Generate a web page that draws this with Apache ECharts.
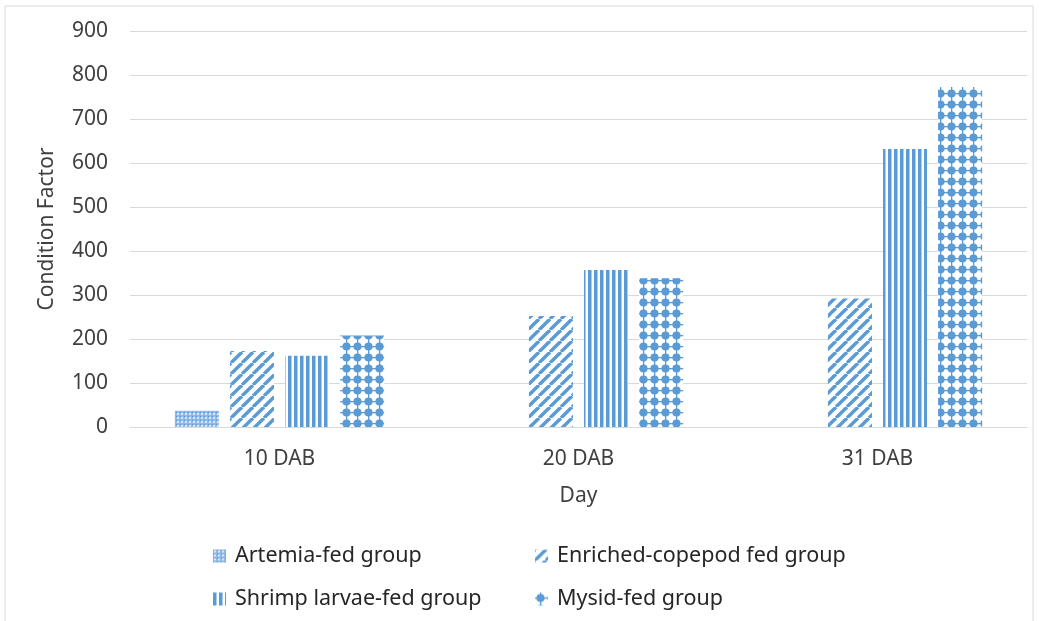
<!DOCTYPE html>
<html>
<head>
<meta charset="utf-8">
<script src="https://cdn.jsdelivr.net/npm/echarts@6/dist/echarts.min.js"></script>
<style>
  html, body { margin: 0; padding: 0; background: #ffffff; }
  #chart { width: 1039px; height: 621px; }
</style>
</head>
<body>
<div id="chart"></div>
<script>
// Condition factor by feeding group and day after birth (DAB)
var days = ['10 DAB', '20 DAB', '31 DAB'];
var groupNames = ['Artemia-fed group', 'Enriched-copepod fed group', 'Shrimp larvae-fed group', 'Mysid-fed group'];
var artemia   = [37, null, null];
var copepod   = [173, 252, 292];
var shrimp    = [162, 357, 632];
var mysid     = [208, 338, 773];
var yTicks = [0, 100, 200, 300, 400, 500, 600, 700, 800, 900];

var BLUE = '#5b9bd5';
var FONT = '"Noto Sans", "Open Sans", sans-serif';

// Fill patterns drawn on small canvases
function makeCanvas(w, h, draw) {
  var c = document.createElement('canvas');
  c.width = w; c.height = h;
  var ctx = c.getContext('2d');
  ctx.fillStyle = '#ffffff';
  ctx.fillRect(0, 0, w, h);
  draw(ctx, w, h);
  return c;
}

var gridPattern = makeCanvas(4, 4, function (ctx) {
  ctx.fillStyle = '#8db8e6';
  ctx.fillRect(0, 0, 4, 4);
  ctx.fillStyle = '#d6e6f7';
  ctx.fillRect(1, 1, 2, 2);
  ctx.fillStyle = '#5b9bd5';
  ctx.fillRect(0, 0, 1, 1);
});

var diagPattern = makeCanvas(11, 11, function (ctx, w, h) {
  ctx.strokeStyle = BLUE;
  ctx.lineWidth = 3.4;
  for (var k = -1; k <= 1; k++) {
    ctx.beginPath();
    ctx.moveTo(k * w, h);
    ctx.lineTo(k * w + w, 0);
    ctx.stroke();
  }
});

var vertPattern = makeCanvas(6, 6, function (ctx) {
  ctx.fillStyle = BLUE;
  ctx.fillRect(0, 0, 3, 6);
  ctx.fillStyle = '#a9cbeb';
  ctx.fillRect(3, 0, 1, 6);
});

var dotPattern = makeCanvas(11, 11, function (ctx) {
  ctx.fillStyle = BLUE;
  ctx.beginPath();
  ctx.arc(5.5, 5.5, 4.1, 0, Math.PI * 2);
  ctx.fill();
  ctx.fillRect(0, 5, 11, 1.3);
  ctx.fillRect(5, 0, 1.3, 11);
});

var fills = [gridPattern, diagPattern, vertPattern, dotPattern];
var seriesData = [artemia, copepod, shrimp, mysid];

var series = groupNames.map(function (name, i) {
  return {
    name: name,
    type: 'bar',
    data: seriesData[i],
    barGap: '25%',
    barCategoryGap: '30%',
    itemStyle: { color: { image: fills[i], repeat: 'repeat' } },
    emphasis: { disabled: true }
  };
});

// One legend per entry, laid out in two rows of two
var legendPos = [
  { left: 208, top: 540 },
  { left: 530, top: 540 },
  { left: 208, top: 583 },
  { left: 530, top: 583 }
];
var legends = groupNames.map(function (name, i) {
  return {
    data: [name],
    left: legendPos[i].left,
    top: legendPos[i].top,
    icon: 'rect',
    itemWidth: 13,
    itemHeight: 13,
    selectedMode: false,
    textStyle: { fontFamily: FONT, fontSize: 21.5, color: '#262626', padding: [0, 0, 0, 4] }
  };
});

var chart = echarts.init(document.getElementById('chart'), null, { renderer: 'canvas' });
chart.setOption({
  animation: false,
  backgroundColor: '#ffffff',
  graphic: [{
    type: 'rect',
    shape: { x: 5, y: 6, width: 1028, height: 640 },
    style: { fill: 'none', stroke: '#d9d9d9', lineWidth: 1 },
    silent: true,
    z: -1
  }],
  grid: { left: 130, right: 12, top: 31, bottom: 194 },
  legend: legends,
  xAxis: {
    type: 'category',
    data: days,
    name: 'Day',
    nameLocation: 'middle',
    nameGap: 59,
    nameTextStyle: { fontFamily: FONT, fontSize: 21, color: '#404040' },
    axisLine: { lineStyle: { color: '#d9d9d9', width: 1 } },
    axisTick: { show: false },
    axisLabel: { fontFamily: FONT, fontSize: 21, color: '#404040', margin: 22 }
  },
  yAxis: {
    type: 'value',
    min: yTicks[0],
    max: yTicks[yTicks.length - 1],
    interval: 100,
    name: 'Condition Factor',
    nameLocation: 'middle',
    nameGap: 72,
    nameTextStyle: { fontFamily: FONT, fontSize: 21, color: '#404040' },
    axisLine: { show: false },
    axisTick: { show: false },
    axisLabel: { fontFamily: FONT, fontSize: 21, color: '#404040', margin: 22 },
    splitLine: { lineStyle: { color: '#d9d9d9', width: 1 } }
  },
  series: series
});
</script>
</body>
</html>
